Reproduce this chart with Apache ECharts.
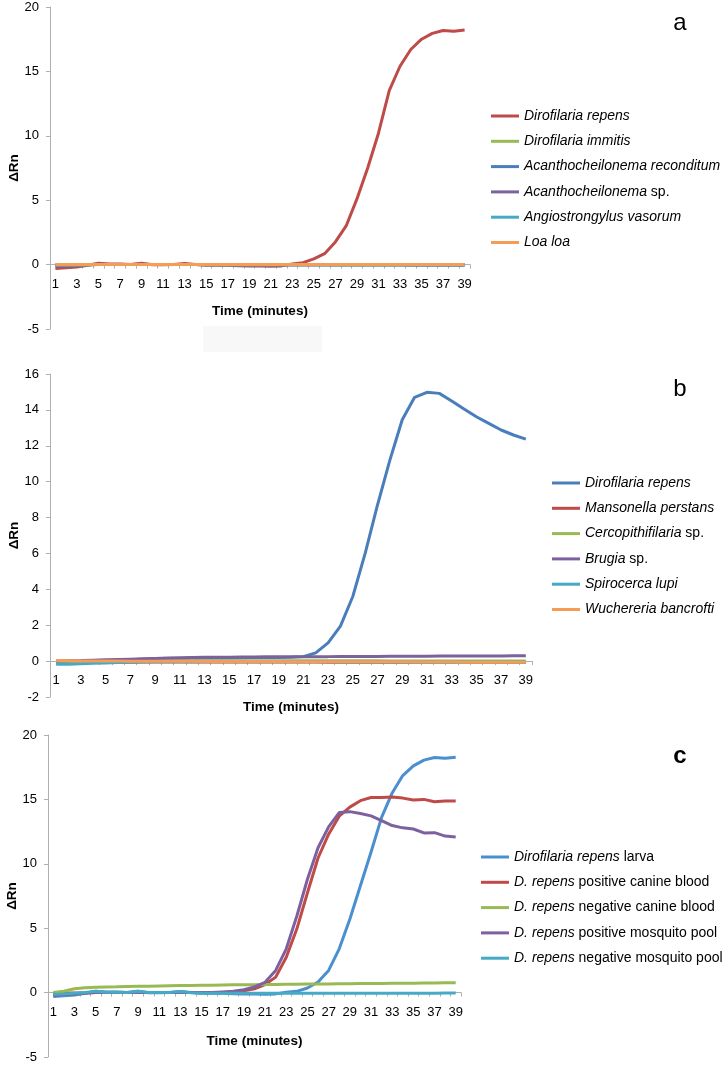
<!DOCTYPE html>
<html>
<head>
<meta charset="utf-8">
<script src="https://cdn.jsdelivr.net/npm/echarts@6/dist/echarts.min.js"></script>
<style>
html,body{margin:0;padding:0;background:#fff;}
#chart{width:723px;height:1066px;}
</style>
</head>
<body>
<div id="chart"></div>
<script>
// ---------- categories / ticks ----------
const timeMinutes = ['1','2','3','4','5','6','7','8','9','10','11','12','13','14','15','16','17','18','19','20',
  '21','22','23','24','25','26','27','28','29','30','31','32','33','34','35','36','37','38','39'];
const panelLetters = ['a','b','c'];

// ---------- panel a ----------
const aNames = ['Dirofilaria repens','Dirofilaria immitis','Acanthocheilonema reconditum','Acanthocheilonema sp.','Angiostrongylus vasorum','Loa loa'];
const aRepens = [-0.3,-0.25,-0.18,-0.05,0.1,0.05,0.05,0.0,0.1,-0.02,-0.02,0.0,0.08,0.0,-0.05,-0.05,-0.05,-0.08,-0.1,-0.1,
  -0.12,-0.1,0.05,0.15,0.44,0.85,1.76,3.0,5.1,7.5,10.2,13.5,15.4,16.7,17.5,17.95,18.18,18.12,18.22];
const aImmitis = [-0.05,-0.04,-0.03,-0.02,0.0,0.01,0.0,0.0,0.01,0.0,0.0,0.0,0.01,0.0,0.0,-0.01,-0.01,-0.01,-0.01,-0.02,
  -0.02,-0.02,-0.02,-0.02,-0.02,-0.02,-0.03,-0.03,-0.03,-0.03,-0.03,-0.03,-0.03,-0.03,-0.03,-0.04,-0.04,-0.04,-0.04];
const aReconditum = [-0.08,-0.06,-0.04,-0.02,0.02,0.01,0.01,0.0,0.02,0.0,0.0,0.0,0.01,0.0,-0.01,-0.01,-0.01,-0.02,-0.02,-0.02,
  -0.02,-0.02,-0.02,-0.02,-0.02,-0.02,-0.02,-0.02,-0.02,-0.02,-0.02,-0.02,-0.02,-0.03,-0.03,-0.03,-0.03,-0.03,-0.03];
const aAcanthoSp = [-0.04,-0.03,-0.02,-0.01,0.01,0.01,0.0,0.0,0.01,0.0,0.0,0.0,0.0,0.0,0.0,0.0,-0.01,-0.01,-0.01,-0.01,
  -0.01,-0.01,-0.01,-0.01,-0.01,-0.01,-0.01,-0.01,-0.01,-0.01,-0.01,-0.01,-0.01,-0.01,-0.01,-0.01,-0.01,-0.01,-0.01];
const aAngio = [-0.06,-0.05,-0.04,-0.02,0.0,0.0,0.0,0.0,0.0,0.0,0.0,0.0,0.0,0.0,-0.01,-0.01,-0.01,-0.01,-0.01,-0.01,
  -0.01,-0.01,-0.01,-0.01,-0.01,-0.01,-0.01,-0.01,-0.01,-0.01,-0.01,-0.01,-0.01,-0.01,-0.01,-0.01,-0.01,-0.01,-0.01];
const aLoa = [0.0,0.0,0.0,0.0,0.01,0.01,0.0,0.0,0.01,0.0,0.0,0.0,0.0,0.0,0.0,0.0,0.0,0.0,0.0,0.0,
  0.0,0.0,0.0,0.0,0.0,0.0,0.0,0.0,0.0,0.0,0.0,0.0,0.0,0.0,0.0,0.0,0.0,0.0,0.0];

// ---------- panel b ----------
const bNames = ['Dirofilaria repens','Mansonella perstans','Cercopithifilaria sp.','Brugia sp.','Spirocerca lupi','Wuchereria bancrofti'];
const bRepens = [-0.1,-0.1,-0.05,0.0,0.02,0.05,0.08,0.1,0.12,0.14,0.15,0.16,0.17,0.18,0.18,0.19,0.2,0.2,0.2,0.21,
  0.25,0.46,1.02,1.95,3.6,6.0,8.7,11.2,13.45,14.7,14.98,14.92,14.5,14.05,13.62,13.25,12.88,12.6,12.37];
const bMansonella = [-0.1,-0.1,-0.09,-0.08,-0.07,-0.06,-0.06,-0.05,-0.05,-0.05,-0.05,-0.05,-0.05,-0.05,-0.05,-0.05,-0.05,-0.05,-0.05,-0.05,
  -0.05,-0.05,-0.06,-0.06,-0.06,-0.06,-0.06,-0.06,-0.07,-0.07,-0.07,-0.07,-0.07,-0.07,-0.08,-0.08,-0.08,-0.08,-0.08];
const bCercopith = [-0.05,-0.04,-0.03,-0.02,-0.01,0.0,0.0,0.01,0.01,0.02,0.02,0.02,0.02,0.02,0.02,0.02,0.02,0.02,0.02,0.02,
  0.02,0.02,0.02,0.02,0.02,0.02,0.02,0.01,0.01,0.01,0.01,0.01,0.01,0.01,0.01,0.01,0.0,0.0,0.0];
const bBrugia = [0.0,0.02,0.03,0.05,0.07,0.09,0.11,0.13,0.15,0.17,0.19,0.2,0.21,0.22,0.22,0.23,0.23,0.24,0.24,0.24,
  0.25,0.25,0.25,0.26,0.26,0.26,0.26,0.27,0.27,0.27,0.27,0.28,0.28,0.28,0.29,0.29,0.29,0.3,0.3];
const bSpirocerca = [-0.18,-0.17,-0.15,-0.12,-0.1,-0.08,-0.06,-0.05,-0.04,-0.03,-0.03,-0.03,-0.03,-0.03,-0.03,-0.04,-0.04,-0.04,-0.04,-0.04,
  -0.04,-0.04,-0.04,-0.05,-0.05,-0.05,-0.05,-0.05,-0.05,-0.06,-0.06,-0.06,-0.06,-0.06,-0.07,-0.07,-0.07,-0.07,-0.07];
const bWuchereria = [0.03,0.02,0.01,0.0,0.0,0.0,-0.01,-0.01,-0.01,-0.01,-0.01,-0.01,-0.02,-0.02,-0.02,-0.02,-0.02,-0.02,-0.02,-0.03,
  -0.03,-0.03,-0.03,-0.03,-0.04,-0.04,-0.04,-0.04,-0.04,-0.05,-0.05,-0.05,-0.05,-0.06,-0.06,-0.06,-0.06,-0.07,-0.07];

// ---------- panel c ----------
const cNames = ['Dirofilaria repens larva','D. repens positive canine blood','D. repens negative canine blood','D. repens positive mosquito pool','D. repens negative mosquito pool'];
const cLarva = [-0.3,-0.25,-0.18,-0.05,0.1,0.05,0.05,0.0,0.1,-0.02,-0.02,0.0,0.08,0.0,-0.05,-0.05,-0.05,-0.08,-0.1,-0.1,
  -0.12,-0.1,0.02,0.1,0.36,0.82,1.72,3.4,5.7,8.3,10.9,13.6,15.5,16.85,17.6,18.05,18.25,18.2,18.28];
const cPosBlood = [-0.05,-0.04,-0.03,-0.02,0.0,0.0,0.0,0.0,0.0,0.0,0.0,0.0,0.0,0.0,0.0,0.0,0.0,0.05,0.15,0.3,
  0.62,1.2,2.75,4.95,7.75,10.45,12.3,13.7,14.4,14.9,15.15,15.15,15.18,15.1,14.95,15.0,14.82,14.88,14.88];
const cNegBlood = [0.0,0.1,0.3,0.38,0.42,0.44,0.45,0.47,0.49,0.5,0.52,0.54,0.55,0.56,0.57,0.58,0.59,0.6,0.6,0.61,
  0.62,0.63,0.64,0.65,0.66,0.66,0.67,0.68,0.69,0.7,0.7,0.71,0.72,0.72,0.73,0.74,0.75,0.76,0.77];
const cPosPool = [-0.2,-0.15,-0.1,-0.05,0.0,0.0,0.0,0.0,0.0,0.0,0.0,0.0,0.0,0.0,0.0,0.0,0.05,0.1,0.23,0.44,
  0.8,1.72,3.4,5.95,8.8,11.25,12.87,13.98,14.05,13.9,13.72,13.35,12.97,12.79,12.7,12.4,12.42,12.15,12.08];
const cNegPool = [-0.12,-0.1,-0.05,0.0,0.1,0.02,0.02,0.0,0.1,0.0,0.0,0.0,0.08,-0.02,-0.05,-0.05,-0.05,-0.05,-0.05,-0.05,
  -0.05,-0.05,-0.05,-0.05,-0.05,-0.05,-0.05,-0.05,-0.05,-0.05,-0.05,-0.05,-0.05,-0.05,-0.05,-0.05,-0.05,-0.04,-0.04];

// ---------- y tick ranges ----------
const yTicksA = {min: -5, max: 20, interval: 5};
const yTicksB = {min: -2, max: 16, interval: 2};
const yTicksC = {min: -5, max: 20, interval: 5};

// ---------- styling ----------
const COL = {blue:'#4A7EBB', red:'#BE4B48', green:'#98B954', purple:'#7D60A0', aqua:'#46AAC5', orange:'#F59D56', blueC:'#4A8FD0'};
const FONT = 'Liberation Sans, Arial, sans-serif';
const axisGrey = '#B0B0B0';

const legendRich = {
  i: {fontStyle:'italic', fontSize:14, fontFamily:FONT, color:'#000', lineHeight:14},
  n: {fontStyle:'normal', fontSize:14, fontFamily:FONT, color:'#000', lineHeight:14}
};
const legendText = {
  'a|Dirofilaria repens':'{i|Dirofilaria repens}',
  'a|Dirofilaria immitis':'{i|Dirofilaria immitis}',
  'a|Acanthocheilonema reconditum':'{i|Acanthocheilonema reconditum}',
  'a|Acanthocheilonema sp.':'{i|Acanthocheilonema}{n| sp.}',
  'a|Angiostrongylus vasorum':'{i|Angiostrongylus vasorum}',
  'a|Loa loa':'{i|Loa loa}',
  'b|Dirofilaria repens':'{i|Dirofilaria repens}',
  'b|Mansonella perstans':'{i|Mansonella perstans}',
  'b|Cercopithifilaria sp.':'{i|Cercopithifilaria}{n| sp.}',
  'b|Brugia sp.':'{i|Brugia}{n| sp.}',
  'b|Spirocerca lupi':'{i|Spirocerca lupi}',
  'b|Wuchereria bancrofti':'{i|Wuchereria bancrofti}',
  'c|Dirofilaria repens larva':'{i|Dirofilaria repens}{n| larva}',
  'c|D. repens positive canine blood':'{i|D. repens}{n| positive canine blood}',
  'c|D. repens negative canine blood':'{i|D. repens}{n| negative canine blood}',
  'c|D. repens positive mosquito pool':'{i|D. repens}{n| positive mosquito pool}',
  'c|D. repens negative mosquito pool':'{i|D. repens}{n| negative mosquito pool}'
};

const grids = [
  {left:50, top:7, width:420, height:322, outerBoundsMode:'none', containLabel:false},
  {left:50, top:374, width:482, height:323, outerBoundsMode:'none', containLabel:false},
  {left:48, top:735, width:413, height:322, outerBoundsMode:'none', containLabel:false}
];
const yRanges = [yTicksA, yTicksB, yTicksC];
const nameGaps = [40, 39, 42];

// x axis sits on the zero line: shift it up from grid bottom by the distance to zero
function zeroOffset(gi){
  const g = grids[gi], t = yRanges[gi];
  return -g.height * (0 - t.min) / (t.max - t.min);
}

function xAxis(gi){
  return {
    type:'category', gridIndex:gi, data:timeMinutes, boundaryGap:true, position:'bottom',
    offset: zeroOffset(gi),
    name:'Time (minutes)', nameLocation:'middle', nameGap:nameGaps[gi], nameMoveOverlap:false,
    nameTextStyle:{fontFamily:FONT, fontSize:13.5, fontWeight:'bold', color:'#000'},
    axisLine:{onZero:false, lineStyle:{color:axisGrey, width:1}},
    axisTick:{show:true, interval:0, length:4, lineStyle:{color:axisGrey}},
    axisLabel:{interval:1, margin:13, fontFamily:FONT, fontSize:13, color:'#000'},
    splitLine:{show:false}
  };
}
function yAxis(gi, t){
  return {
    type:'value', gridIndex:gi, min:t.min, max:t.max, interval:t.interval,
    name:'\u0394Rn', nameLocation:'middle', nameGap:29, nameMoveOverlap:false,
    nameTextStyle:{fontFamily:FONT, fontSize:13.5, fontWeight:'bold', color:'#000'},
    axisLine:{show:true, lineStyle:{color:axisGrey, width:1}},
    axisTick:{show:true, length:4, lineStyle:{color:axisGrey}},
    axisLabel:{margin:11, fontFamily:FONT, fontSize:13, color:'#000'},
    splitLine:{show:false}
  };
}
function line(panel, name, data, color, gi){
  return {
    type:'line', name: panel + '|' + name, xAxisIndex:gi, yAxisIndex:gi, data:data,
    color:color, symbol:'none', showSymbol:false, smooth:false,
    lineStyle:{color:color, width:3}, emphasis:{disabled:true}, z:2
  };
}
function legend(panel, names, left, top){
  return {
    orient:'vertical', left:left, top:top, itemWidth:28, itemHeight:3, itemGap:11.3,
    icon:'rect', padding:0, selectedMode:false,
    data: names.map(n => panel + '|' + n),
    formatter: n => legendText[n],
    textStyle:{fontFamily:FONT, fontSize:14, color:'#000', lineHeight:14, rich:legendRich}
  };
}

const aData = [aRepens, aImmitis, aReconditum, aAcanthoSp, aAngio, aLoa];
const aCols = [COL.red, COL.green, COL.blue, COL.purple, COL.aqua, COL.orange];
const bData = [bRepens, bMansonella, bCercopith, bBrugia, bSpirocerca, bWuchereria];
const bCols = [COL.blue, COL.red, COL.green, COL.purple, COL.aqua, COL.orange];
const cData = [cLarva, cPosBlood, cNegBlood, cPosPool, cNegPool];
const cCols = [COL.blueC, COL.red, COL.green, COL.purple, COL.aqua];

const series = [];
aNames.forEach((n,i)=>series.push(line('a', n, aData[i], aCols[i], 0)));
bNames.forEach((n,i)=>series.push(line('b', n, bData[i], bCols[i], 1)));
cNames.forEach((n,i)=>series.push(line('c', n, cData[i], cCols[i], 2)));

const chart = echarts.init(document.getElementById('chart'), null, {renderer:'canvas'});
chart.setOption({
  animation:false,
  backgroundColor:'#fff',
  grid: grids,
  xAxis: [xAxis(0), xAxis(1), xAxis(2)],
  yAxis: [yAxis(0, yTicksA), yAxis(1, yTicksB), yAxis(2, yTicksC)],
  legend: [
    legend('a', aNames, 491, 109),
    legend('b', bNames, 552, 476),
    legend('c', cNames, 481, 850)
  ],
  graphic: [
    {type:'rect', left:203, top:326, shape:{width:119, height:26}, style:{fill:'#f8f8f8'}, silent:true, z:-1},
    {type:'text', x:680, y:23, style:{text:panelLetters[0], font:'24px ' + FONT, fill:'#000', textAlign:'center', textVerticalAlign:'middle'}},
    {type:'text', x:680, y:389, style:{text:panelLetters[1], font:'24px ' + FONT, fill:'#000', textAlign:'center', textVerticalAlign:'middle'}},
    {type:'text', x:680, y:756, style:{text:panelLetters[2], font:'bold 24px ' + FONT, fill:'#000', textAlign:'center', textVerticalAlign:'middle'}}
  ],
  series: series
});
</script>
</body>
</html>
